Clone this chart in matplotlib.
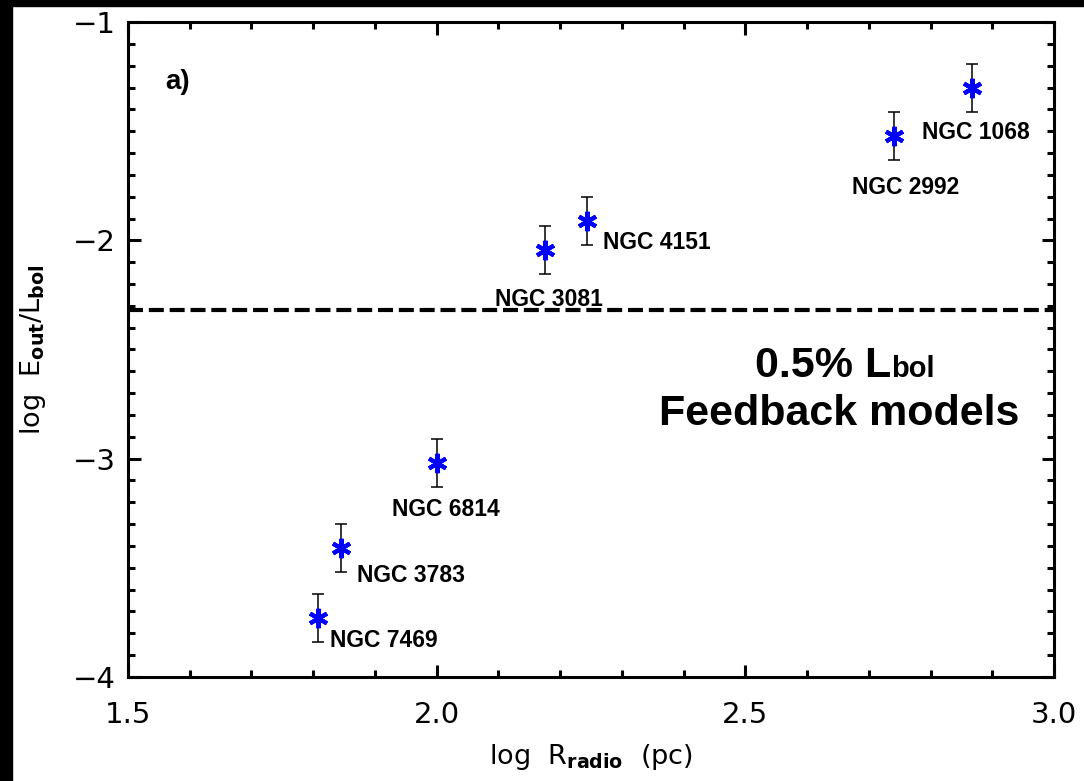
import matplotlib
matplotlib.use("Agg")
import matplotlib.pyplot as plt
from matplotlib.patches import Rectangle
from matplotlib.ticker import MultipleLocator, FixedLocator

# Data
names = ["NGC 1068", "NGC 2992", "NGC 4151", "NGC 3081", "NGC 6814", "NGC 3783", "NGC 7469"]
log_r = [2.867, 2.741, 2.244, 2.176, 2.000, 1.845, 1.808]
log_e = [-1.30, -1.52, -1.91, -2.045, -3.02, -3.41, -3.73]
err = [0.11, 0.11, 0.11, 0.11, 0.11, 0.11, 0.11]
label_x = [2.786, 2.673, 2.270, 2.095, 1.928, 1.871, 1.827]
label_y = [-1.508, -1.756, -2.012, -2.273, -3.235, -3.533, -3.831]
threshold = -2.32
xticks = [1.5, 2.0, 2.5, 3.0]
xtick_labels = ["1.5", "2.0", "2.5", "3.0"]
yticks = [-4, -3, -2, -1]
ytick_labels = ["\u22124", "\u22123", "\u22122", "\u22121"]

fig = plt.figure(figsize=(10.84, 7.81), dpi=100)
fig.patch.set_facecolor("white")
# black frame strips on top and left edges
fig.add_artist(Rectangle((0, 0), 12 / 1084, 1, transform=fig.transFigure, color="black", zorder=-1))
fig.add_artist(Rectangle((0, 1 - 6 / 781), 1, 6 / 781, transform=fig.transFigure, color="black", zorder=-1))

ax = fig.add_axes([0.1181, 0.1332, 0.9723 - 0.1181, 0.9718 - 0.1332])
ax.set_xlim(1.5, 3.0)
ax.set_ylim(-4, -1)

ax.errorbar(log_r, log_e, yerr=err, fmt="none", ecolor="black", elinewidth=1.1,
            capsize=4.5, capthick=1.1, zorder=3)
ax.plot(log_r, log_e, linestyle="none", marker=(6, 2, 0), markersize=14,
        markeredgewidth=3.0, color="#0000ff", zorder=4)

ax.axhline(threshold, color="black", linewidth=3, dashes=(3.6, 1.4), zorder=2)

for n, x, y in zip(names, label_x, label_y):
    ax.text(x, y, n, fontsize=16.5, fontweight="bold", family="Liberation Sans",
            ha="left", va="center", color="black", zorder=5)

ax.text(1.56, -1.275, "a)", fontsize=20, fontweight="bold", family="Liberation Sans",
        ha="left", va="center")

ax.text(2.736, -2.626, "0.5% L", fontsize=31, fontweight="bold", family="Liberation Sans",
        ha="right", va="baseline")
ax.text(2.736, -2.626, "bol", fontsize=21, fontweight="bold", family="Liberation Sans",
        ha="left", va="baseline")
ax.text(2.652, -2.846, "Feedback models", fontsize=31, fontweight="bold", family="Liberation Sans",
        ha="center", va="baseline")

for s in ax.spines.values():
    s.set_linewidth(2.2)

ax.xaxis.set_major_locator(FixedLocator(xticks))
ax.xaxis.set_minor_locator(MultipleLocator(0.1))
ax.yaxis.set_major_locator(FixedLocator(yticks))
ax.yaxis.set_minor_locator(MultipleLocator(0.1))
ax.set_xticklabels(xtick_labels)
ax.set_yticklabels(ytick_labels)
ax.tick_params(which="both", direction="in", top=True, right=True, width=2.2)
ax.tick_params(which="major", length=9)
ax.tick_params(which="minor", length=5)
ax.tick_params(axis="x", which="major", pad=17, labelsize=21)
ax.tick_params(axis="y", which="major", pad=9, labelsize=21)

ax.set_xlabel(r"log  R$_{\mathbf{radio}}$  (pc)", fontsize=19.5, labelpad=10)
ax.set_ylabel(r"log  E$_{\mathbf{out}}$/L$_{\mathbf{bol}}$", fontsize=19.5, labelpad=18)

fig.savefig("out.png", dpi=100, facecolor=fig.get_facecolor())
